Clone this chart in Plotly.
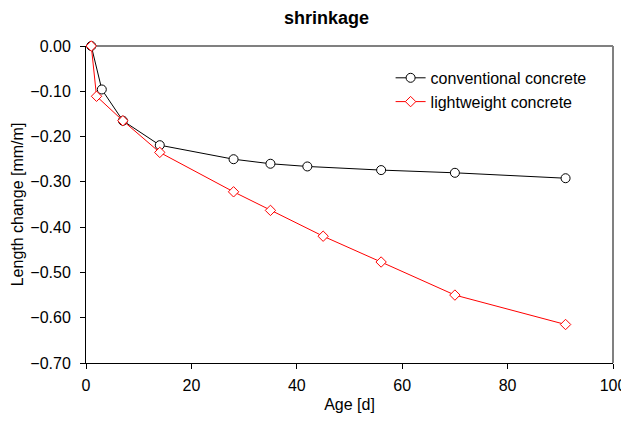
import plotly.graph_objects as go

age_conv = [1, 3, 7, 14, 28, 35, 42, 56, 70, 91]
conv = [0.0, -0.096, -0.165, -0.219, -0.250, -0.260, -0.266, -0.274, -0.280, -0.292]
age_light = [1, 2, 7, 14, 28, 35, 45, 56, 70, 91]
light = [0.0, -0.111, -0.165, -0.235, -0.322, -0.363, -0.420, -0.477, -0.550, -0.615]

FONT = "Liberation Sans, Arial, sans-serif"

fig = go.Figure()
fig.add_trace(go.Scatter(
    x=age_conv, y=conv, mode="lines+markers", name="conventional concrete",
    line=dict(color="black", width=1), cliponaxis=False,
    marker=dict(symbol="circle", size=9, color="white", line=dict(color="black", width=1)),
))
fig.add_trace(go.Scatter(
    x=age_light, y=light, mode="lines+markers", name="lightweight concrete",
    line=dict(color="red", width=1), cliponaxis=False,
    marker=dict(symbol="diamond", size=8, color="white", line=dict(color="red", width=1)),
))

# page body has an 8px margin, so the figure is offset by 8px
fig.update_layout(
    width=621, height=405,
    margin=dict(l=78, r=16, t=38, b=50, autoexpand=False),
    paper_bgcolor="white", plot_bgcolor="white",
    font=dict(family=FONT, size=16, color="black"),
    title=dict(text="<b>shrinkage</b>", x=0.513, xanchor="center", y=0.975, yanchor="middle",
               font=dict(family=FONT, size=18, color="black")),
    showlegend=True,
    legend=dict(x=0.578, y=0.953, xanchor="left", yanchor="top", bgcolor="rgba(0,0,0,0)",
                font=dict(family=FONT, size=16), itemwidth=30, tracegroupgap=0),
    xaxis=dict(range=[0, 100], dtick=20, tick0=0, showgrid=False, zeroline=False,
               showline=True, linecolor="black", linewidth=1, ticks="outside", ticklen=5,
               tickcolor="black", automargin=False, ticklabeloverflow="allow",
               ticklabelstandoff=3,
               title=dict(text="Age [d]", font=dict(family=FONT, size=16), standoff=12)),
    yaxis=dict(range=[-0.70, 0.0], dtick=0.1, tick0=0, tickformat=".2f", showgrid=False,
               zeroline=False, showline=True, linecolor="black", linewidth=1,
               ticks="outside", ticklen=5, tickcolor="black", automargin=False,
               ticklabeloverflow="allow", ticklabelstandoff=6,
               title=dict(text="Length change [mm/m]", font=dict(family=FONT, size=16), standoff=2)),
    shapes=[
        dict(type="line", xref="paper", yref="paper", x0=0, x1=1, y0=1, y1=1,
             line=dict(color="gray", width=2), layer="below"),
        dict(type="line", xref="paper", yref="paper", x0=1, x1=1, y0=0, y1=1,
             line=dict(color="gray", width=2), layer="below"),
    ],
)

fig.write_html("out.html")
